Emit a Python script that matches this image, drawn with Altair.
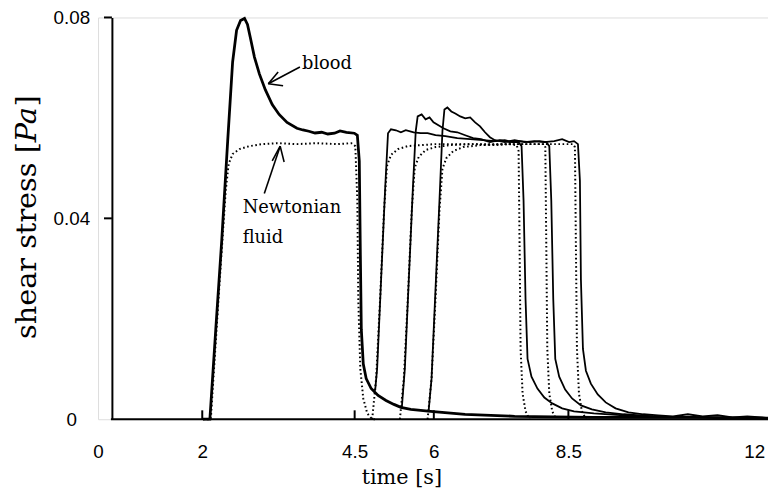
import altair as alt
import pandas as pd

# ---------------- data (time in s, shear stress in Pa) ----------------
blood1_t = [2.011, 2.125, 2.222, 2.320, 2.417, 2.498, 2.563, 2.628, 2.693, 2.742, 2.791, 2.856, 2.937,
            3.034, 3.148, 3.261, 3.391, 3.553, 3.650, 3.748, 3.850, 3.959, 4.060, 4.170, 4.260, 4.365,
            4.495, 4.551, 4.588, 4.607, 4.626, 4.663, 4.719, 4.813, 4.944, 5.094, 5.244, 5.376, 5.563,
            5.751, 5.938, 6.581, 7.502, 8.979, 10.844, 12.26]
blood1_s = [0.0, 0.0, 0.01793, 0.03567, 0.05537, 0.07113, 0.07744, 0.07941, 0.0798, 0.07862, 0.07586,
            0.07212, 0.06877, 0.06562, 0.06266, 0.06069, 0.05911, 0.05793, 0.05760, 0.05734, 0.05700,
            0.05714, 0.05680, 0.05695, 0.05740, 0.05714, 0.05695, 0.05655, 0.05143, 0.03369, 0.01793,
            0.01103, 0.00808, 0.00611, 0.00473, 0.00374, 0.00296, 0.00236, 0.00197, 0.00177, 0.00158,
            0.00099, 0.00059, 0.00039, 0.00039, 0.0002]

blood2_t = [4.888, 4.926, 5.001, 5.076, 5.132, 5.188, 5.282, 5.376, 5.469, 5.619, 5.751, 5.882, 6.031,
            6.215, 6.436, 6.675, 6.913, 7.134, 7.318, 7.465, 7.575, 7.630, 7.667, 7.704, 7.741, 7.814,
            7.925, 8.053, 8.200, 8.384, 8.606, 8.979, 9.539, 10.099]
blood2_s = [0.00571, 0.01005, 0.02778, 0.04552, 0.05695, 0.05773, 0.05754, 0.05714, 0.05754, 0.05714,
            0.05695, 0.05695, 0.05655, 0.05635, 0.05596, 0.05576, 0.05557, 0.05537, 0.05557, 0.05517,
            0.05517, 0.05438, 0.04355, 0.02384, 0.01202, 0.00847, 0.00611, 0.00433, 0.00315, 0.00217,
            0.00158, 0.00118, 0.00079, 0.00059]

blood3_t = [5.394, 5.451, 5.526, 5.601, 5.657, 5.694, 5.769, 5.844, 5.919, 5.994, 6.086, 6.178, 6.307,
            6.436, 6.583, 6.730, 6.877, 7.042, 7.226, 7.410, 7.594, 7.778, 7.961, 8.090, 8.145, 8.182,
            8.219, 8.256, 8.329, 8.440, 8.569, 8.737, 8.942, 9.203, 9.539, 10.099]
blood3_s = [0.00236, 0.01005, 0.02778, 0.04552, 0.05734, 0.06030, 0.06069, 0.05970, 0.06010, 0.05911,
            0.05852, 0.05793, 0.05734, 0.05714, 0.05655, 0.05596, 0.05576, 0.05517, 0.05557, 0.05517,
            0.05537, 0.05517, 0.05537, 0.05517, 0.05438, 0.04355, 0.02384, 0.01202, 0.00847, 0.00591,
            0.00414, 0.00276, 0.00197, 0.00138, 0.00099, 0.00059]

blood4_t = [5.901, 5.957, 6.031, 6.105, 6.160, 6.197, 6.252, 6.325, 6.399, 6.491, 6.583, 6.675, 6.767,
            6.859, 6.951, 7.042, 7.134, 7.318, 7.502, 7.686, 7.869, 8.053, 8.237, 8.384, 8.513, 8.606,
            8.680, 8.717, 8.736, 8.774, 8.830, 8.923, 9.053, 9.203, 9.389, 9.632, 9.911, 10.191, 10.471,
            10.751, 11.030, 11.310, 11.590, 11.870, 12.149, 12.261]
blood4_s = [0.00158, 0.00808, 0.02581, 0.04355, 0.05734, 0.06167, 0.06207, 0.06128, 0.06089, 0.06030,
            0.05990, 0.06010, 0.05911, 0.05832, 0.05714, 0.05616, 0.05557, 0.05517, 0.05557, 0.05517,
            0.05537, 0.05517, 0.05537, 0.05576, 0.05517, 0.05537, 0.05478, 0.04749, 0.02778, 0.01399,
            0.00966, 0.00709, 0.00493, 0.00335, 0.00217, 0.00138, 0.00099, 0.00079, 0.00059, 0.00099,
            0.00059, 0.00079, 0.00039, 0.00059, 0.00039, 0.0002]

newt1_t = [2.011, 2.140, 2.287, 2.385, 2.433, 2.498, 2.612, 2.774, 2.985, 3.229, 3.554, 3.878, 4.203,
           4.446, 4.513, 4.551, 4.569, 4.607, 4.663, 4.738, 4.832, 4.907]
newt1_s = [0.0, 0.0, 0.02778, 0.04552, 0.05084, 0.05281, 0.05379, 0.05438, 0.05478, 0.05497, 0.05478,
           0.05497, 0.05478, 0.05497, 0.05438, 0.04355, 0.02384, 0.01005, 0.00414, 0.00118, 0.0, 0.0]

newt2_t = [4.832, 4.907, 4.982, 5.057, 5.113, 5.188, 5.319, 5.507, 5.751, 6.031, 6.399, 6.767, 7.134,
           7.410, 7.538, 7.575, 7.594, 7.612, 7.649, 7.704, 7.778]
newt2_s = [0.0, 0.00808, 0.02384, 0.04158, 0.05044, 0.05261, 0.05379, 0.05438, 0.05458, 0.05478,
           0.05478, 0.05478, 0.05458, 0.05478, 0.05458, 0.05340, 0.03369, 0.01399, 0.00512, 0.00158, 0.0]

newt3_t = [5.357, 5.432, 5.507, 5.582, 5.638, 5.713, 5.844, 6.031, 6.307, 6.700, 7.200, 7.700, 8.053,
           8.071, 8.090, 8.108, 8.145, 8.200, 8.274]
newt3_s = [0.0, 0.00808, 0.02384, 0.04158, 0.05005, 0.05222, 0.05360, 0.05419, 0.05458, 0.05478,
           0.05478, 0.05478, 0.05478, 0.05419, 0.03369, 0.01399, 0.00512, 0.00158, 0.0]

newt4_t = [5.882, 5.957, 6.031, 6.105, 6.160, 6.234, 6.362, 6.546, 6.859, 7.300, 7.800, 8.300, 8.586,
           8.623, 8.642, 8.661, 8.699, 8.755, 8.829]
newt4_s = [0.0, 0.00808, 0.02384, 0.04158, 0.04985, 0.05202, 0.05340, 0.05419, 0.05458, 0.05478,
           0.05478, 0.05478, 0.05478, 0.05419, 0.03369, 0.01399, 0.00512, 0.00158, 0.0]

# axis ticks / labels
x_tick_labels = [0, 2, 4.5, 6, 8.5, 12]
x_tick_marks = [2, 4.5, 6, 8.5]
y_tick_labels = [0, 0.04, 0.08]
y_tick_marks = [0.04, 0.08]

# annotations (arrow segments: t1, s1 -> t2, s2)
arrow_t1 = [3.602, 3.083, 3.083, 3.018, 3.278, 3.278]
arrow_s1 = [0.07015, 0.0668, 0.0668, 0.04493, 0.05438, 0.05438]
arrow_t2 = [3.083, 3.245, 3.326, 3.278, 3.148, 3.343]
arrow_s2 = [0.0668, 0.06916, 0.0664, 0.05438, 0.05143, 0.05123]
label_text = ["blood", "Newtonian", "fluid"]
label_t = [3.636, 2.664, 2.664]
label_s = [0.07074, 0.04197, 0.03606]

# ---------------- build tables ----------------
def series(name, kind, ts, ss):
    return pd.DataFrame({"run": name, "kind": kind, "t": ts, "s": ss, "i": range(len(ts))})

blood = pd.concat([series("b1", "blood", blood1_t, blood1_s),
                   series("b2", "blood", blood2_t, blood2_s),
                   series("b3", "blood", blood3_t, blood3_s),
                   series("b4", "blood", blood4_t, blood4_s)])
newt = pd.concat([series("n1", "newt", newt1_t, newt1_s),
                  series("n2", "newt", newt2_t, newt2_s),
                  series("n3", "newt", newt3_t, newt3_s),
                  series("n4", "newt", newt4_t, newt4_s)])

W, H = 677, 406
xscale = alt.Scale(domain=[0, 2, 4.5, 6, 8.5, 12],
                   range=[0, 105.3, 259.3, 339.3, 475.3, 663], nice=False, zero=False)
yscale = alt.Scale(domain=[0, 0.08], nice=False, zero=False)

X = alt.X("t:Q", scale=xscale,
          axis=alt.Axis(values=x_tick_labels, title=None, domain=False, ticks=False, tickSize=0,
                        grid=False, labelPadding=33, labelBaseline="middle", labelFont="Liberation Sans",
                        labelFontSize=19, labelColor="black", labelFlush=False, labelOverlap=False,
                        labelExpr="format(datum.value, '~g')"))
Y = alt.Y("s:Q", scale=yscale,
          axis=alt.Axis(values=y_tick_labels, title=None, offset=-14, domainColor="black",
                        domainWidth=2, ticks=False, tickSize=0, grid=False, labelAlign="center",
                        labelPadding=41, labelBaseline="middle", labelFont="Liberation Sans",
                        labelFontSize=19, labelColor="black", labelFlush=False, labelOverlap=False,
                        labelExpr="datum.value == 0 ? '0' : format(datum.value, '.2f')"))

blood_first = alt.Chart(blood[blood.run == "b1"]).mark_line(color="black", strokeWidth=2.8).encode(
    x=X, y=Y, detail="run:N", order="i:Q")
blood_rest = alt.Chart(blood[blood.run != "b1"]).mark_line(color="black", strokeWidth=1.8).encode(
    x=alt.X("t:Q", scale=xscale), y=alt.Y("s:Q", scale=yscale), detail="run:N", order="i:Q")
newt_lines = alt.Chart(newt).mark_line(color="black", strokeWidth=2, strokeDash=[1.6, 2.6]).encode(
    x=alt.X("t:Q", scale=xscale), y=alt.Y("s:Q", scale=yscale), detail="run:N", order="i:Q")

x_axis_line = alt.Chart(pd.DataFrame({"a": [0]})).mark_rule(color="black", strokeWidth=2).encode(
    x=alt.value(13), x2=alt.value(W), y=alt.value(H))
xt = alt.Chart(pd.DataFrame({"t": x_tick_marks})).mark_rule(color="black", strokeWidth=2).encode(
    x=alt.X("t:Q", scale=xscale), y=alt.value(H), y2=alt.value(H - 9))
yt = alt.Chart(pd.DataFrame({"s": y_tick_marks})).mark_rule(color="black", strokeWidth=2).encode(
    y=alt.Y("s:Q", scale=yscale), x=alt.value(6), x2=alt.value(14))

arrows = alt.Chart(pd.DataFrame({"t": arrow_t1, "s": arrow_s1, "t2": arrow_t2, "s2": arrow_s2})
                   ).mark_rule(color="black", strokeWidth=1.6).encode(
    x=alt.X("t:Q", scale=xscale), y=alt.Y("s:Q", scale=yscale), x2="t2:Q", y2="s2:Q")
labels = alt.Chart(pd.DataFrame({"t": label_t, "s": label_s, "txt": label_text})).mark_text(
    align="left", baseline="middle", font="DejaVu Serif", fontSize=18, color="black").encode(
    x=alt.X("t:Q", scale=xscale), y=alt.Y("s:Q", scale=yscale), text="txt:N")

one = pd.DataFrame({"a": [0]})
xtitle = alt.Chart(one).mark_text(text="time [s]", font="DejaVu Serif", fontSize=21, align="center",
                                  baseline="middle", color="black").encode(
    x=alt.value(307), y=alt.value(465))
ytitle1 = alt.Chart(one).mark_text(text="shear stress [", font="DejaVu Serif", fontSize=29,
                                   align="right", baseline="middle", angle=270, color="black").encode(
    x=alt.value(-72), y=alt.value(126))
ytitle2 = alt.Chart(one).mark_text(text="Pa", font="DejaVu Serif", fontSize=29, fontStyle="italic",
                                   align="left", baseline="middle", angle=270, color="black").encode(
    x=alt.value(-72), y=alt.value(126))
ytitle3 = alt.Chart(one).mark_text(text="]", font="DejaVu Serif", fontSize=29,
                                   align="left", baseline="middle", angle=270, color="black").encode(
    x=alt.value(-72), y=alt.value(90))

chart = alt.layer(blood_first, blood_rest, newt_lines, x_axis_line, xt, yt, arrows, labels,
                  xtitle, ytitle1, ytitle2, ytitle3).properties(
    width=W, height=H,
    autosize=alt.AutoSizeParams(type="none"),
    padding={"left": 91, "top": 7, "right": 0, "bottom": 74},
).configure_view(stroke=None).configure(background="white")

chart.save("out.html", embed_options={"renderer": "svg", "actions": False})
